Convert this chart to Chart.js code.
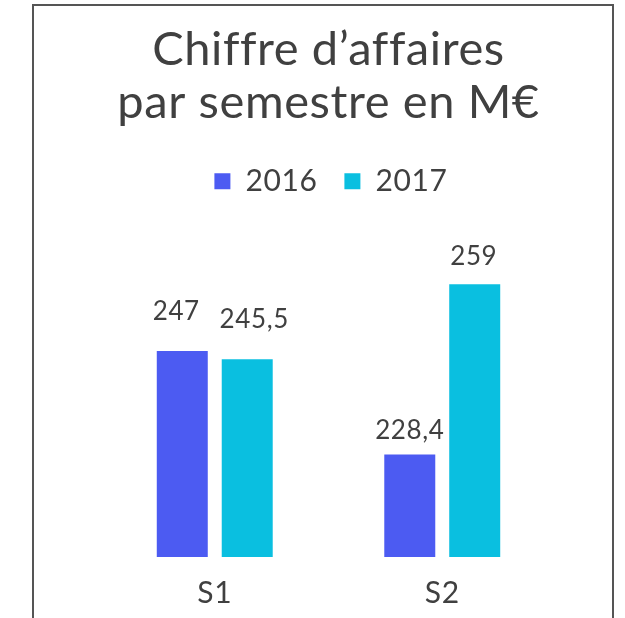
<!DOCTYPE html>
<html>
<head>
<meta charset="utf-8">
<script src="https://cdn.jsdelivr.net/npm/chart.js@4.4.1/dist/chart.umd.min.js"></script>
<style>
  html, body { margin: 0; padding: 0; background: #fff; overflow: hidden; }
  #frame {
    position: absolute; left: 32px; top: 4px; width: 578px; height: 700px;
    border: 2px solid #555; border-bottom: none;
  }
  #chart { position: absolute; left: 0; top: 0; }
</style>
</head>
<body>
<div id="frame"></div>
<canvas id="chart" width="625" height="640"></canvas>
<script>
const categories = ["S1", "S2"];
const seriesNames = ["2016", "2017"];
const values2016 = [247, 228.4];
const values2017 = [245.5, 259];
const titleLines = ["Chif\u200Cf\u200Cre d\u2019af\u200Cfaires", "par semestre en M\u20ac"];

const textColor = "#404040";
const fontFamily = "Lato, 'Open Sans', sans-serif";

// slightly looser text, no ligatures
const textSpacing = {
  id: "textSpacing",
  beforeDraw(chart) {
    chart.ctx.letterSpacing = "0.6px";
  },
};

// value labels above bars, French decimal comma
const valueLabels = {
  id: "valueLabels",
  afterDatasetsDraw(chart, args, opts) {
    const ctx = chart.ctx;
    ctx.save();
    ctx.font = "26px " + fontFamily;
    ctx.fillStyle = textColor;
    ctx.textAlign = "center";
    ctx.textBaseline = "middle";
    chart.data.datasets.forEach((ds, i) => {
      chart.getDatasetMeta(i).data.forEach((bar, j) => {
        const nudge = opts.nudges[i][j];
        const txt = String(ds.data[j]).replace(".", ",");
        ctx.fillText(txt, bar.x + nudge[0], bar.y - nudge[1]);
      });
    });
    ctx.restore();
  },
};

new Chart(document.getElementById("chart"), {
  type: "bar",
  data: {
    labels: categories,
    datasets: [
      {
        label: seriesNames[0],
        data: values2016,
        backgroundColor: "#4C5BF2",
      },
      {
        label: seriesNames[1],
        data: values2017,
        backgroundColor: "#0ABFE0",
      },
    ],
  },
  options: {
    responsive: false,
    animation: false,
    categoryPercentage: 0.571,
    barPercentage: 0.785,
    layout: { padding: { left: 101, right: 69, top: 0, bottom: 11 } },
    plugins: {
      title: {
        display: true,
        text: titleLines,
        color: textColor,
        font: { family: fontFamily, size: 47, weight: "normal", lineHeight: 1.13 },
        padding: { top: 23, bottom: 10 },
      },
      legend: {
        labels: {
          color: textColor,
          font: { family: fontFamily, size: 30 },
          boxWidth: 16,
          boxHeight: 16,
          padding: 27,
        },
      },
      tooltip: { enabled: false },
      valueLabels: {
        nudges: [
          [[-6, 39], [0, 24]],
          [[7, 40], [-1, 28]],
        ],
      },
    },
    scales: {
      x: {
        grid: { display: false, drawTicks: false },
        border: { display: false },
        ticks: { color: textColor, font: { family: fontFamily, size: 30 }, padding: 18 },
      },
      y: {
        display: false,
        min: 210,
        max: 273,
      },
    },
  },
  plugins: [textSpacing, valueLabels],
});
</script>
</body>
</html>
